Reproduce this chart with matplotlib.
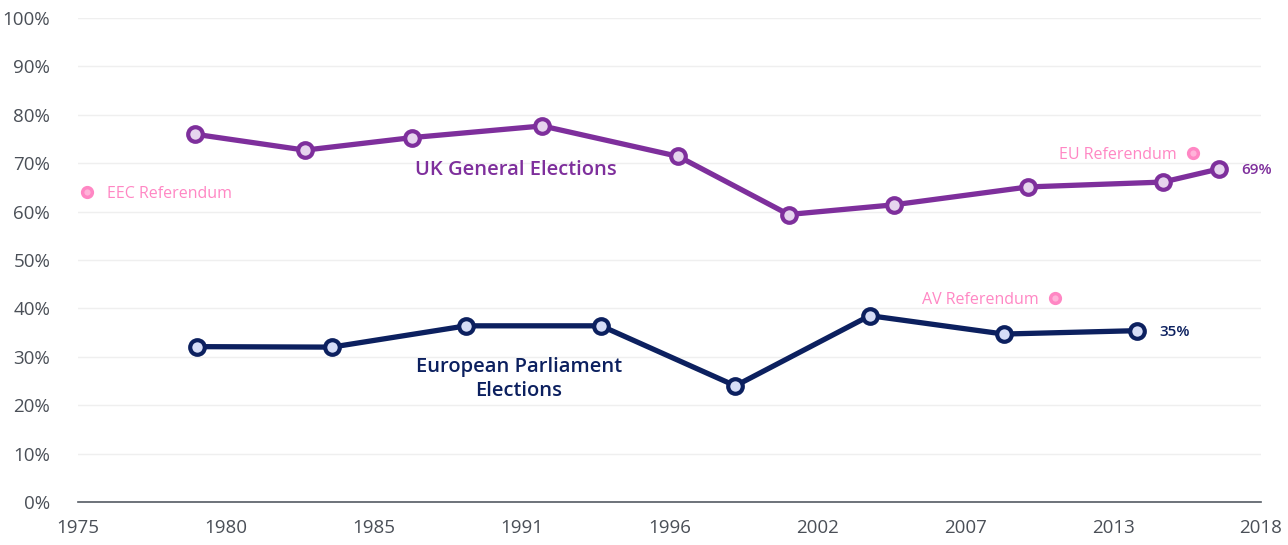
import matplotlib.pyplot as plt
import numpy as np

plt.rcParams['font.family'] = ['Open Sans', 'DejaVu Sans']

# election dates as decimal years, turnout in %
uk_years = [1979.34, 1983.44, 1987.44, 1992.27, 1997.33, 2001.43, 2005.34, 2010.35, 2015.35, 2017.43]
uk_turnout = [76.0, 72.7, 75.3, 77.7, 71.4, 59.4, 61.4, 65.1, 66.1, 68.8]

ep_years = [1979.43, 1984.44, 1989.44, 1994.45, 1999.45, 2004.45, 2009.43, 2014.39]
ep_turnout = [32.1, 32.0, 36.4, 36.4, 24.0, 38.5, 34.7, 35.4]

ref_names = ["EEC Referendum", "AV Referendum", "EU Referendum"]
ref_years = [1975.35, 2011.34, 2016.48]
ref_turnout = [64.0, 42.2, 72.2]

xtick_labels = ["1975", "1980", "1985", "1991", "1996", "2002", "2007", "2013", "2018"]
ytick_vals = [0, 10, 20, 30, 40, 50, 60, 70, 80, 90, 100]

purple = "#7e2f9c"
purple_fill = "#e6d4ee"
navy = "#0c205f"
navy_fill = "#d6ddf7"
pink = "#ff87c4"
pink_fill = "#ffb3d9"

fig = plt.figure(figsize=(12.88, 5.45), dpi=100)
ax = fig.add_axes([78/1288, 43/545, (1261-78)/1288, 484/545])

ax.plot(uk_years, uk_turnout, color=purple, lw=3.8, marker='o', ms=10.5,
        mfc=purple_fill, mec=purple, mew=3, zorder=3, solid_joinstyle='round')
ax.plot(ep_years, ep_turnout, color=navy, lw=3.8, marker='o', ms=10.5,
        mfc=navy_fill, mec=navy, mew=3, zorder=3, solid_joinstyle='round')
ax.plot(ref_years, ref_turnout, ls='none', marker='o', ms=7, mfc=pink_fill,
        mec=pink, mew=2.5, zorder=3)

# referendum labels
ax.annotate(ref_names[0], (ref_years[0], ref_turnout[0]), xytext=(14, -1.5),
            textcoords='offset points', ha='left', va='center', color=pink, fontsize=11.5)
for i in [1, 2]:
    ax.annotate(ref_names[i], (ref_years[i], ref_turnout[i]), xytext=(-12, -1.5),
                textcoords='offset points', ha='right', va='center', color=pink, fontsize=11.5)

# series labels
ax.text(1991.3, 68.6, "UK General Elections", color=purple, fontsize=14.5,
        fontweight='semibold', ha='center', va='center')
ax.text(1991.4, 25.4, "European Parliament\nElections", color=navy, fontsize=14.5,
        fontweight='semibold', ha='center', va='center', linespacing=1.25)

# end values
ax.annotate(f"{uk_turnout[-1]:.0f}%", (uk_years[-1], uk_turnout[-1]), xytext=(16, -1),
            textcoords='offset points', ha='left', va='center', color=purple,
            fontsize=11, fontweight='semibold')
ax.annotate(f"{ep_turnout[-1]:.0f}%", (ep_years[-1], ep_turnout[-1]), xytext=(16, -1),
            textcoords='offset points', ha='left', va='center', color=navy,
            fontsize=11, fontweight='semibold')

ax.set_xlim(1975, 2019)
ax.set_ylim(0, 100)
ax.set_xticks(np.linspace(1975, 2019, len(xtick_labels)))
ax.set_xticklabels(xtick_labels)
ax.set_yticks(ytick_vals)
ax.set_yticklabels([f"{v}%" for v in ytick_vals])
ax.tick_params(axis='both', length=0, labelsize=13.5, labelcolor='#4a4f57')
ax.tick_params(axis='y', pad=20)
ax.tick_params(axis='x', pad=12)
ax.grid(axis='y', color='#efefef', lw=1)
ax.set_axisbelow(True)
for s in ['top', 'right', 'left']:
    ax.spines[s].set_visible(False)
ax.spines['bottom'].set_color('#555b63')
ax.spines['bottom'].set_linewidth(1.2)
ax.spines['bottom'].set_zorder(2)

plt.savefig("out.png", dpi=100)
